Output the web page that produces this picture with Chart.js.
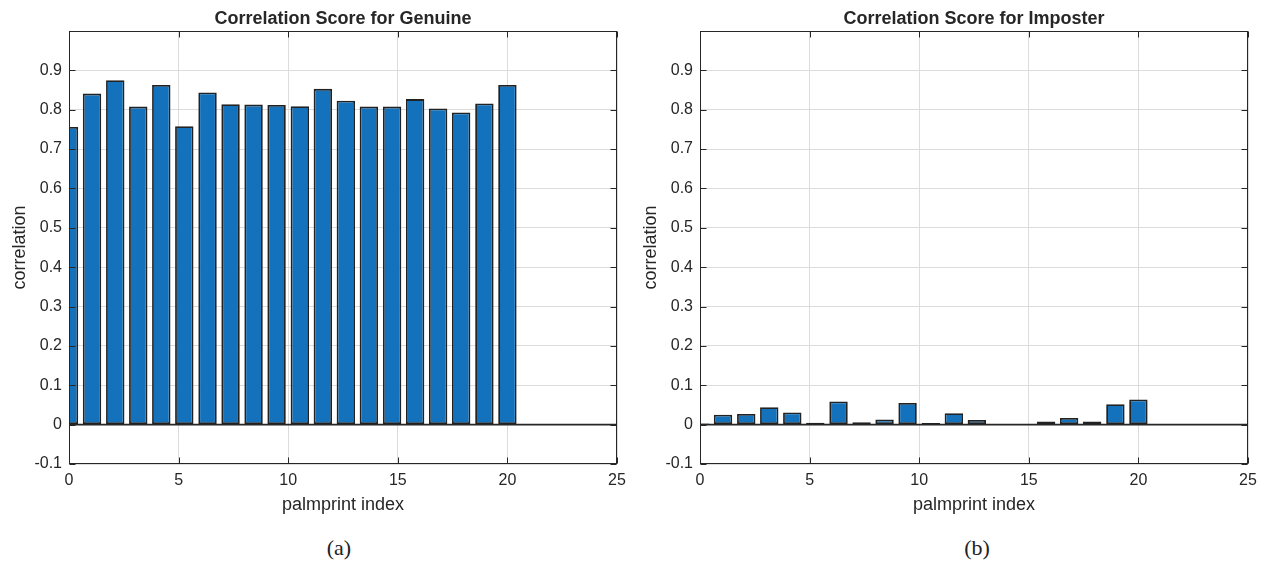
<!DOCTYPE html>
<html>
<head>
<meta charset="utf-8">
<title>Correlation Score</title>
<script src="https://cdn.jsdelivr.net/npm/chart.js@4.4.1/dist/chart.umd.min.js"></script>
<style>
  html, body { margin: 0; padding: 0; background: #fff; }
  #wrap { position: relative; width: 1270px; height: 567px; overflow: hidden; }
  .panel { position: absolute; top: 0; width: 635px; height: 528px; }
  #panelA { left: 0; }
  #panelB { left: 635px; }
  .caption {
    position: absolute; top: 535px; width: 80px; text-align: center;
    font-family: "Liberation Serif", "Times New Roman", serif; font-size: 22px; color: #222;
  }
</style>
</head>
<body>
<div id="wrap">
  <div class="panel" id="panelA"><canvas id="genuineChart"></canvas></div>
  <div class="panel" id="panelB"><canvas id="imposterChart"></canvas></div>
  <div class="caption" style="left:299px">(a)</div>
  <div class="caption" style="left:937px">(b)</div>
</div>
<script>
// bar positions on the palmprint axis (20 samples spread over 0..20)
const palmIdx = [0, 1.05, 2.11, 3.16, 4.21, 5.26, 6.32, 7.37, 8.42, 9.47,
                 10.53, 11.58, 12.63, 13.68, 14.74, 15.79, 16.84, 17.89, 18.95, 20];

// correlation scores
const genuineScore = [0.756, 0.841, 0.875, 0.808, 0.863, 0.758, 0.844, 0.814, 0.813, 0.812,
                      0.809, 0.853, 0.823, 0.808, 0.808, 0.827, 0.803, 0.793, 0.816, 0.863];
const imposterScore = [0.003, 0.025, 0.027, 0.044, 0.031, 0.005, 0.059, 0.006, 0.013, 0.055,
                       0.004, 0.029, 0.012, 0.001, 0.001, 0.008, 0.017, 0.008, 0.052, 0.064];

// axis ticks
const xTicks = [0, 5, 10, 15, 20, 25];
const yTicks = [-0.1, 0, 0.1, 0.2, 0.3, 0.4, 0.5, 0.6, 0.7, 0.8, 0.9];

const INK = '#262626';
const BAR_FILL = '#1372BB';
const GRID = '#dcdcdc';
const AREA_TOP = 31, AREA_BOTTOM = 464, PANEL_H = 528;

Chart.defaults.font.family = '"Liberation Sans", Arial, Helvetica, sans-serif';
Chart.defaults.font.size = 16;
Chart.defaults.color = INK;

// box, inward ticks, zero baseline and the text around the axes
const matlabAxes = {
  id: 'matlabAxes',
  afterDatasetsDraw(chart, args, opts) {
    const { ctx, chartArea: a, scales: { x, y } } = chart;
    const L = Math.round(a.left) + 0.5, R = Math.round(a.right) - 0.5;
    const T = Math.round(a.top) + 0.5, B = Math.round(a.bottom) - 0.5;
    ctx.save();

    // bar baseline
    const y0 = y.getPixelForValue(0);
    ctx.strokeStyle = INK;
    ctx.lineWidth = 1.8;
    ctx.beginPath();
    ctx.moveTo(a.left, y0);
    ctx.lineTo(a.right, y0);
    ctx.stroke();

    // axes box
    ctx.lineWidth = 1;
    ctx.strokeRect(L, T, R - L, B - T);

    // tick marks pointing inward on all four sides
    const tl = 6;
    ctx.beginPath();
    xTicks.forEach(v => {
      const px = Math.round(x.getPixelForValue(v)) + 0.5;
      ctx.moveTo(px, B); ctx.lineTo(px, B - tl);
      ctx.moveTo(px, T); ctx.lineTo(px, T + tl);
    });
    yTicks.forEach(v => {
      const py = Math.round(y.getPixelForValue(v)) + 0.5;
      ctx.moveTo(L, py); ctx.lineTo(L + tl, py);
      ctx.moveTo(R, py); ctx.lineTo(R - tl, py);
    });
    ctx.stroke();

    // title and axis labels
    const cx = (a.left + a.right) / 2;
    ctx.fillStyle = INK;
    ctx.textAlign = 'center';
    ctx.textBaseline = 'alphabetic';
    ctx.font = 'bold 18px "Liberation Sans", Arial, sans-serif';
    ctx.fillText(opts.title, cx, 23.5);
    ctx.font = '18px "Liberation Sans", Arial, sans-serif';
    ctx.fillText(opts.xLabel, cx, 510);
    ctx.translate(a.left - 44.5, (a.top + a.bottom) / 2);
    ctx.rotate(-Math.PI / 2);
    ctx.fillText(opts.yLabel, 0, 0);
    ctx.restore();
  }
};

function makeChart(canvasId, scores, title, axisW, padRight) {
  const ctx = document.getElementById(canvasId).getContext('2d');
  return new Chart(ctx, {
    type: 'bar',
    data: {
      datasets: [{
        data: palmIdx.map((p, i) => ({ x: p, y: scores[i] })),
        backgroundColor: BAR_FILL,
        borderColor: '#222222',
        borderWidth: 1.8,
        borderSkipped: false,
        barPercentage: 0.8,
        categoryPercentage: 1.0
      }]
    },
    options: {
      animation: false,
      responsive: true,
      maintainAspectRatio: false,
      events: [],
      layout: { padding: { top: AREA_TOP, right: padRight, bottom: 0, left: 0 } },
      plugins: {
        legend: { display: false },
        tooltip: { enabled: false },
        matlabAxes: { title: title, xLabel: 'palmprint index', yLabel: 'correlation' }
      },
      scales: {
        x: {
          type: 'linear',
          min: 0, max: 25,
          offset: false,
          grid: { color: GRID, offset: false, drawTicks: false },
          border: { display: false },
          ticks: { padding: 7, maxRotation: 0, autoSkip: false, callback: v => String(v) },
          afterBuildTicks: s => { s.ticks = xTicks.map(v => ({ value: v })); },
          afterFit: s => { s.height = PANEL_H - AREA_BOTTOM; }
        },
        y: {
          min: -0.1, max: 1.0,
          grid: { color: GRID, drawTicks: false },
          border: { display: false },
          ticks: { padding: 7, callback: v => String(v) },
          afterBuildTicks: s => { s.ticks = yTicks.map(v => ({ value: v })); },
          afterFit: s => { s.width = axisW; }
        }
      }
    },
    plugins: [matlabAxes]
  });
}

makeChart('genuineChart', genuineScore, 'Correlation Score for Genuine', 69, 18);
makeChart('imposterChart', imposterScore, 'Correlation Score for Imposter', 65, 22);
</script>
</body>
</html>
